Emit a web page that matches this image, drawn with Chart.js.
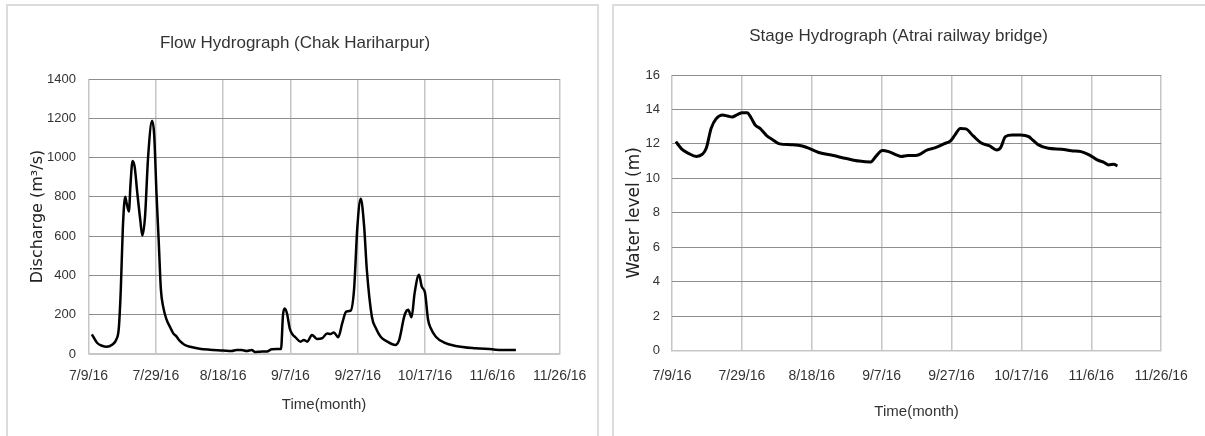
<!DOCTYPE html>
<html>
<head>
<meta charset="utf-8">
<script src="https://cdn.jsdelivr.net/npm/chart.js@4.4.1/dist/chart.umd.min.js"></script>
<style>
    body { margin: 0; background: #fff; width: 1205px; height: 436px; overflow: hidden; position: relative; }
    .panel { position: absolute; box-sizing: border-box; border: 2px solid #dcdcdc; }
    canvas { position: absolute; top: 0; }
</style>
</head>
<body>
<div class="panel" style="left:6px; top:4px; width:593px; height:450px;"></div>
<div class="panel" style="left:612px; top:4px; width:610px; height:450px;"></div>
<canvas id="flowChart" width="600" height="436" style="left:0px;"></canvas>
<canvas id="stageChart" width="605" height="436" style="left:600px;"></canvas>
<script>
// days counted from 7/9/16
const dateLabels = ['7/9/16', '7/29/16', '8/18/16', '9/7/16', '9/27/16', '10/17/16', '11/6/16', '11/26/16'];

const flowDays = [1, 2.6, 4, 5.4, 7, 8.3, 9, 9.6, 10.2, 10.9, 11.3, 12, 12.5, 13.1, 13.7, 14.5, 15.4, 16, 16.8, 17.7,
    18.9, 19.5, 20.2, 20.9, 21.5, 22.2, 23.2, 24.3, 25.2, 26, 27.2, 28.5, 30.2, 33, 36, 40, 42.5, 44, 45.5, 47,
    48.5, 49.5, 51, 53, 54.5, 56, 57.2, 57.8, 58.3, 59, 59.8, 60.6, 61.5, 63, 64, 65, 66.4, 67.9, 69.4, 70.9,
    71.9, 72.9, 74.2, 75.4, 76.6, 77.9, 78.9, 79.9, 80.9, 81.9, 82.7, 84.2, 85.4, 86.8, 88.8, 91.1, 92.3, 93.8, 94.5, 95,
    96, 96.9, 98.2, 99, 100, 100.9, 101.7, 103.2, 105.7, 109.1, 115, 120, 122.6, 127];
const flowValues = [100, 56, 42, 37, 47, 75, 130, 330, 640, 800, 770, 725, 870, 983, 955, 820, 680, 603, 700, 1000,
    1187, 1120, 820, 560, 330, 240, 175, 135, 105, 92, 65, 47, 37, 27, 22, 18, 15, 20, 20, 15,
    20, 10, 12, 13, 24, 25, 25, 200, 232, 205, 130, 100, 85, 63, 71, 63, 97, 77, 80, 105,
    102, 109, 85, 157, 216, 221, 327, 650, 790, 650, 429, 190, 131, 88, 63, 46, 71, 190, 220, 225,
    187, 310, 403, 344, 310, 174, 131, 88, 58, 41, 29, 24, 20, 20];

const stageDays = [1.1, 2.8, 4.7, 7, 8.7, 9.8, 11.2, 12.6, 14.5, 15.9, 17.2, 18.7, 20.1, 21.5, 22.7, 23.8, 25.2, 27, 28.9, 30.8,
    34, 37.3, 38.7, 42, 46.2, 49.9, 53.6, 56.9, 58.3, 60.2, 62, 64.4, 65.6, 67.5, 69.8, 73.1, 75.4, 77.8, 79.8, 81,
    82.5, 84.1, 86.2, 88.5, 90.9, 92.9, 94.1, 95.4, 97.4, 99.8, 102.1, 103.2, 104.9, 107.7, 111.5, 114.3, 117.1, 119.4, 121.7, 123.6,
    125, 126.4, 127.5];
const stageValues = [12.13, 11.7, 11.45, 11.27, 11.4, 11.74, 12.9, 13.45, 13.68, 13.62, 13.56, 13.7, 13.81, 13.81, 13.49, 13.1, 12.9, 12.5, 12.23, 12.0,
    11.95, 11.88, 11.78, 11.5, 11.32, 11.15, 11.0, 10.95, 11.26, 11.62, 11.55, 11.35, 11.27, 11.33, 11.33, 11.65, 11.78, 12.0, 12.19, 12.52,
    12.9, 12.87, 12.46, 12.05, 11.88, 11.65, 11.8, 12.42, 12.52, 12.52, 12.42, 12.23, 11.94, 11.74, 11.69, 11.6, 11.55, 11.36, 11.07, 10.93,
    10.78, 10.82, 10.72];

const textFont = "'Liberation Sans', Arial, sans-serif";
const axisFont = "'DejaVu Sans', Verdana, sans-serif";
const textColor = '#333';

function toPoints(days, values) {
    return days.map((d, i) => ({ x: d, y: values[i] }));
}

function makeChart(id, cfg) {
    const ctx = document.getElementById(id).getContext('2d');
    return new Chart(ctx, {
        type: 'line',
        data: {
            datasets: [{
                data: cfg.points,
                borderColor: '#000',
                borderWidth: cfg.lineWidth,
                pointRadius: 0,
                fill: false,
                tension: 0.4,
                cubicInterpolationMode: 'monotone'
            }]
        },
        options: {
            responsive: false,
            animation: false,
            layout: { padding: cfg.padding },
            plugins: {
                legend: { display: false },
                tooltip: { enabled: false },
                title: {
                    display: true,
                    text: cfg.title,
                    color: textColor,
                    font: { family: textFont, size: 17, weight: 'normal', lineHeight: 1.2 },
                    padding: cfg.titlePadding
                }
            },
            scales: {
                x: {
                    type: 'linear',
                    min: 0,
                    max: 140,
                    afterFit: (scale) => { scale.height = cfg.xHeight; },
                    ticks: {
                        stepSize: 20,
                        autoSkip: false,
                        maxRotation: 0,
                        padding: cfg.xTickPad,
                        color: textColor,
                        font: { family: textFont, size: 14, lineHeight: 1.2 },
                        callback: (v) => dateLabels[Math.round(v / 20)]
                    },
                    grid: { color: '#c6c6c6', lineWidth: 1.5, drawTicks: false },
                    border: { color: '#c6c6c6', width: 1.5 },
                    title: {
                        display: true,
                        text: 'Time(month)',
                        color: textColor,
                        font: { family: textFont, size: 15, lineHeight: 1.2 },
                        padding: 0
                    }
                },
                y: {
                    min: 0,
                    max: cfg.yMax,
                    afterFit: (scale) => { scale.width = cfg.yWidth; },
                    ticks: {
                        stepSize: cfg.yStep,
                        padding: cfg.yTickPad,
                        color: textColor,
                        font: { family: textFont, size: 13, lineHeight: 1.2 },
                        callback: (v) => String(v)
                    },
                    grid: {
                        color: (c) => c.tick && c.tick.value === 0 ? '#c6c6c6' : '#8e8e8e',
                        lineWidth: 1,
                        drawTicks: false
                    },
                    border: { display: false },
                    title: {
                        display: true,
                        text: cfg.yTitle,
                        color: '#222',
                        font: { family: axisFont, size: cfg.yTitleSize, lineHeight: 1.2 },
                        padding: 0
                    }
                }
            }
        }
    });
}

makeChart('flowChart', {
    points: toPoints(flowDays, flowValues),
    lineWidth: 2.5,
    title: 'Flow Hydrograph (Chak Hariharpur)',
    yTitle: 'Discharge (m³/s)',
    yTitleSize: 16,
    yMax: 1400,
    yStep: 200,
    padding: { left: 28.4, right: 38.3, top: 0, bottom: 22 },
    titlePadding: { top: 32.8, bottom: 25.8 },
    yWidth: 60.1,
    yTickPad: 12.5,
    xHeight: 60,
    xTickPad: 13.6
});

makeChart('stageChart', {
    points: toPoints(stageDays, stageValues),
    lineWidth: 3,
    title: 'Stage Hydrograph (Atrai railway bridge)',
    yTitle: 'Water level (m)',
    yTitleSize: 17,
    yMax: 16,
    yStep: 2,
    padding: { left: 24.4, right: 32.3, top: 0, bottom: 15 },
    titlePadding: { top: 25.8, bottom: 28.8 },
    yWidth: 47.6,
    yTickPad: 12,
    xHeight: 70.5,
    xTickPad: 17.1
});
</script>
</body>
</html>
